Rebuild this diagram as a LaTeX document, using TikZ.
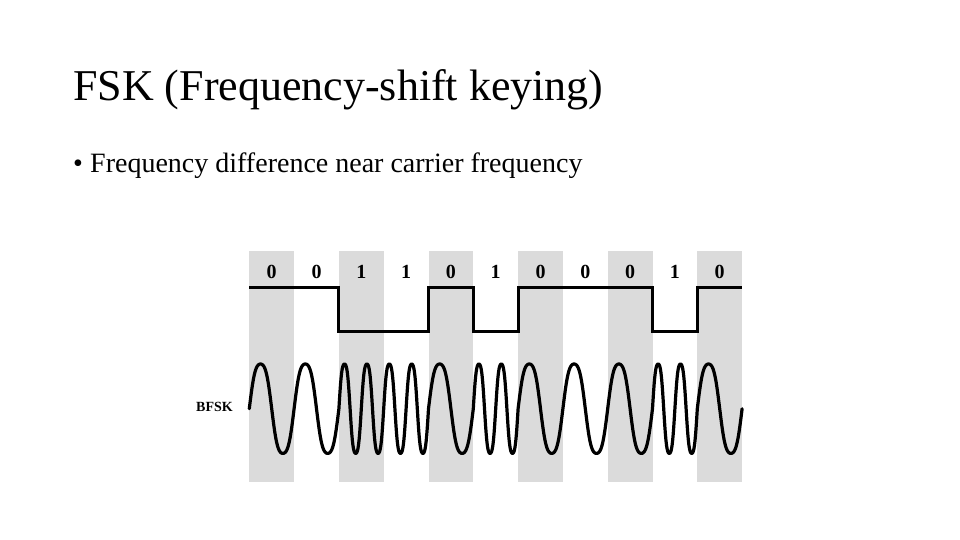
\documentclass[tikz,border=0pt]{standalone}
\usepackage{fontspec}
\setmainfont{Liberation Serif}
\begin{document}
\begin{tikzpicture}[x=1pt,y=-1pt,
  band/.style={fill=black!14,draw=none},
  sig/.style={line width=3pt,line join=miter,black},
  wave/.style={line width=3.2pt,line join=round,line cap=round,black},
  digit/.style={font=\fontsize{20}{20}\selectfont\bfseries,inner sep=0pt},
  title/.style={font=\fontsize{44}{48}\selectfont,inner sep=0pt,anchor=base west},
  body/.style={font=\fontsize{28}{32}\selectfont,inner sep=0pt,anchor=base west},
  lbl/.style={font=\fontsize{14}{14}\selectfont\bfseries,inner sep=0pt}]
\useasboundingbox (0,0) rectangle (960,540);
\fill[white] (0,0) rectangle (960,540);
\def\xo{249.3}\def\bw{44.8}\def\hi{287.3}\def\lo{331.7}\def\mid{408.7}\def\amp{44.7}
% shaded columns
\foreach \k in {0,2,4,6,8,10}
  \fill[band] ({\xo+\k*\bw},250.7) rectangle ({\xo+(\k+1)*\bw},481.7);
% texts
\node[title] (t) at (73,101) {FSK (Frequency-shift keying)};
\node[body] (b) at (73,172) {•};
\node[body] (bt) at (90,172) {Frequency difference near carrier frequency};
% digits
\foreach \d [count=\i from 0] in {0,0,1,1,0,1,0,0,0,1,0}
  \node[digit] (d\i) at ({\xo+(\i+0.5)*\bw},271.7) {\d};
% square wave
\draw[sig] (\xo,\hi) -- ({\xo+2*\bw},\hi) -- ({\xo+2*\bw},\lo) -- ({\xo+4*\bw},\lo)
  -- ({\xo+4*\bw},\hi) -- ({\xo+5*\bw},\hi) -- ({\xo+5*\bw},\lo) -- ({\xo+6*\bw},\lo)
  -- ({\xo+6*\bw},\hi) -- ({\xo+9*\bw},\hi) -- ({\xo+9*\bw},\lo) -- ({\xo+10*\bw},\lo)
  -- ({\xo+10*\bw},\hi) -- ({\xo+11*\bw},\hi);
% BFSK wave (one continuous path)
\coordinate (w0) at (\xo,\mid);
\draw[wave] (w0)
  \foreach \d [count=\i from 0] in {0,0,1,1,0,1,0,0,0,1,0}{
    -- plot[domain=0:1,samples=81]
      ({\xo+\i*\bw+\x*\bw},{\mid-\amp*(sin(360*(\d+1)*\x)+0.07*sin(1080*(\d+1)*\x))/0.93})
  };
\node[lbl,anchor=west] (bfsk) at (196,406.7) {BFSK};
\end{tikzpicture}
\end{document}
